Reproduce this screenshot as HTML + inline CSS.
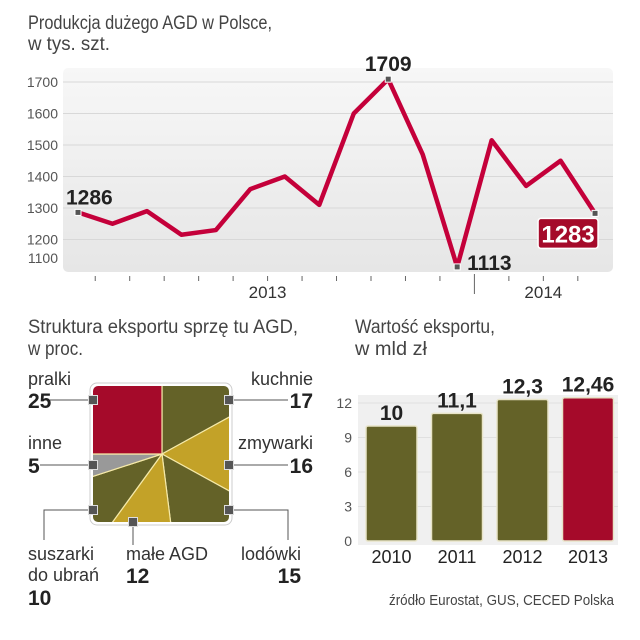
<!DOCTYPE html>
<html><head><meta charset="utf-8"><style>
html,body{margin:0;padding:0;background:#fff;}
svg{display:block;font-family:"Liberation Sans Narrow","Liberation Sans",sans-serif;}
.t{fill:#444;font-size:19px;}
.ax{fill:#555;font-size:14px;}
.b{fill:#222;font-weight:bold;font-size:21px;}
.lb{fill:#333;font-size:18px;}
</style></head><body>
<svg id="c" width="640" height="640" viewBox="0 0 640 640">
<defs>
<linearGradient id="bg" x1="0" y1="0" x2="0" y2="1"><stop offset="0" stop-color="#f7f7f7"/><stop offset="1" stop-color="#e6e6e6"/></linearGradient>
<clipPath id="sq"><rect x="93" y="386" width="136" height="136" rx="5"/></clipPath>
</defs>
<text class="t" x="28" y="29" textLength="244" lengthAdjust="spacingAndGlyphs">Produkcja dużego AGD w Polsce,</text>
<text class="t" x="28" y="50" textLength="82" lengthAdjust="spacingAndGlyphs">w tys. szt.</text>
<rect x="63" y="68" width="550" height="204" rx="5" fill="url(#bg)"/>
<g id="lineg"></g>
<text class="t" x="28" y="333" textLength="270" lengthAdjust="spacingAndGlyphs">Struktura eksportu sprzę tu AGD,</text>
<text class="t" x="28" y="355" textLength="55" lengthAdjust="spacingAndGlyphs">w proc.</text>
<text class="t" x="355" y="333" textLength="140" lengthAdjust="spacingAndGlyphs">Wartość eksportu,</text>
<text class="t" x="355" y="355" textLength="72" lengthAdjust="spacingAndGlyphs">w mld zł</text>
<rect x="90" y="383" width="142" height="142" rx="7" fill="#fff" stroke="#ccc"/>
<g id="pieg" clip-path="url(#sq)"></g>
<g id="pielab"></g>
<rect x="358" y="395" width="260" height="150" fill="#f0f0f0"/>
<g id="barg"></g>
<text x="614" y="605" text-anchor="end" fill="#444" font-size="15" textLength="225" lengthAdjust="spacingAndGlyphs">źródło Eurostat, GUS, CECED Polska</text>
</svg>
<script>
const NS='http://www.w3.org/2000/svg';
function mk(p,tag,a,txt){const e=document.createElementNS(NS,tag);for(const k in a)e.setAttribute(k,a[k]);if(txt!==undefined)e.textContent=txt;p.appendChild(e);return e;}

// line chart data
const lineValues=[1286,1250,1290,1215,1230,1360,1400,1310,1600,1709,1470,1113,1515,1370,1450,1283];
const lineTicks=[1100,1200,1300,1400,1500,1600,1700];
const yearLabels=['2013','2014'];
const yearPos=[5.5,13.5];
const callouts=[0,9,11,15];

const lx=i=>78+i*34.47;
const ly=v=>82+(1700-v)*0.315;
const lg=document.getElementById('lineg');
lineTicks.forEach(t=>{
  if(t>1100&&t<=1700){const l=mk(lg,'line',{x1:63,x2:613,y1:ly(t),y2:ly(t),stroke:'#d8d8d8','stroke-width':1});
  
  }
  const tx=mk(lg,'text',{x:58,y:(t===1100?263:ly(t)+5),'text-anchor':'end',class:'ax'},t);
  
  
});
for(let i=0;i<lineValues.length-1;i++){
  const x=(lx(i)+lx(i+1))/2;
  const big=(i===11);
  const tk=mk(lg,'line',{x1:x,x2:x,y1:big?274:276,y2:big?294:281,stroke:'#666','stroke-width':1});
  
  
}
yearLabels.forEach((y,k)=>{const t=mk(lg,'text',{x:lx(yearPos[k]),y:298,'text-anchor':'middle',fill:'#333','font-size':17},y);

});
const pl=mk(lg,'polyline',{points:lineValues.map((v,i)=>lx(i)+','+ly(v)).join(' '),fill:'none',stroke:'#c4003a','stroke-width':4.5,'stroke-linejoin':'round'});


callouts.forEach(i=>{
  const x=lx(i),y=ly(lineValues[i]);
  const m=mk(lg,'rect',{x:x-3,y:y-3,width:6,height:6,fill:'#555',stroke:'#fff','stroke-width':1});
  
  
  let t;
  if(i===15){
    const r=mk(lg,'rect',{x:x-57,y:y+5,width:60,height:30,rx:3,fill:'#a50a2a',stroke:'#fff','stroke-width':1.5});
    
    
    t=mk(lg,'text',{x:x-27,y:y+29,'text-anchor':'middle',class:'b',fill:'#fff',style:'fill:#fff;font-size:24px'},lineValues[i]);
  } else if(i===11){
    t=mk(lg,'text',{x:x+10,y:y+3,class:'b'},lineValues[i]);
  } else {
    t=mk(lg,'text',{x:x+(i===0?-12:0),y:y-8,'text-anchor':i===0?'start':'middle',class:'b'},lineValues[i]);
  }
  
  
});

// structure chart data
const pieNames=['kuchnie','zmywarki','lodówki','małe AGD','suszarki do ubrań','inne','pralki'];
const pieValues=[17,16,15,12,10,5,25];
const pieColors=['#646228','#c3a228','#646228','#c3a228','#646228','#999999','#a50a2a'];
const cx=162,cy=454,R=200;
const pg=document.getElementById('pieg');
let a0=0;
pieValues.forEach((v,k)=>{
  const a1=a0+v/100*2*Math.PI;
  const p=(a)=>[cx+R*Math.sin(a),cy-R*Math.cos(a)];
  const s=p(a0),e=p(a1);
  const large=(a1-a0)>Math.PI?1:0;
  const path=mk(pg,'path',{d:`M${cx},${cy}L${s[0]},${s[1]}A${R},${R} 0 ${large} 1 ${e[0]},${e[1]}Z`,fill:pieColors[k],stroke:'#f5e9a8','stroke-width':1.2});
  
  
  a0=a1;
});
const pll=document.getElementById('pielab');
const labs=[
 {n:'pralki',v:25,mx:93,my:400,lx:28,ly:385,vy:408,anchor:'start',line:[50,400]},
 {n:'inne',v:5,mx:93,my:465,lx:28,ly:449,vy:473,anchor:'start',line:[40,465]},
 {n:'kuchnie',v:17,mx:229,my:400,lx:313,ly:385,vy:408,anchor:'end',line:[288,400]},
 {n:'zmywarki',v:16,mx:229,my:465,lx:313,ly:449,vy:473,anchor:'end',line:[288,465]},
];
labs.forEach(o=>{
  const ln=mk(pll,'line',{x1:o.line[0],y1:o.my,x2:o.mx,y2:o.my,stroke:'#555'});
  
  
  const a=mk(pll,'text',{x:o.lx,y:o.ly,'text-anchor':o.anchor,class:'lb'},o.n);
  
  
  const b=mk(pll,'text',{x:o.lx,y:o.vy,'text-anchor':o.anchor,class:'b'},o.v);
  
  
});
[[93,510,44,510,44,540],[229,510,288,510,288,540],[133,522,133,522,133,545]].forEach(q=>{
  const l=mk(pll,'polyline',{points:`${q[0]},${q[1]} ${q[2]},${q[3]} ${q[4]},${q[5]}`,fill:'none',stroke:'#555'});
  
  
});
[['suszarki',28,560,'start','lb'],['do ubrań',28,581,'start','lb'],['10',28,605,'start','b'],
 ['małe AGD',126,560,'start','lb'],['12',126,583,'start','b'],
 ['lodówki',301,560,'end','lb'],['15',301,583,'end','b']].forEach(r=>{
  const t=mk(pll,'text',{x:r[1],y:r[2],'text-anchor':r[3],class:r[4]},r[0]);
  
  
});
[[93,400],[229,400],[93,465],[229,465],[93,510],[229,510],[133,522]].forEach(m=>{
  const r=mk(pll,'rect',{x:m[0]-4.5,y:m[1]-4.5,width:9,height:9,fill:'#555',stroke:'#ddd','stroke-width':1});
  
  
});

// bar chart data
const barYears=['2010','2011','2012','2013'];
const barValues=[10,11.1,12.3,12.46];
const barLabels=['10','11,1','12,3','12,46'];
const barTicks=[0,3,6,9,12];
const barColors=['#646228','#646228','#646228','#a50a2a'];
const by=v=>541-v*11.5;
const bx=i=>366+i*65.5;
const bg=document.getElementById('barg');
barTicks.forEach(t=>{
  if(t>0){const l=mk(bg,'line',{x1:358,x2:618,y1:by(t),y2:by(t),stroke:'#e0e0e0'});
  
  }
  const tx=mk(bg,'text',{x:352,y:by(t)+5,'text-anchor':'end',class:'ax'},t);
  
  
});
barValues.forEach((v,i)=>{
  const r=mk(bg,'rect',{x:bx(i),y:by(v),width:51,height:v*11.5,rx:2,fill:barColors[i],stroke:'#e8e4c8','stroke-width':1.5});
  
  
  const t=mk(bg,'text',{x:bx(i)+25.5,y:by(v)-6,'text-anchor':'middle',class:'b'},barLabels[i]);
  
  
  const y=mk(bg,'text',{x:bx(i)+25.5,y:563,'text-anchor':'middle',fill:'#222','font-size':18},barYears[i]);
  
  
});
</script>
</body></html>
